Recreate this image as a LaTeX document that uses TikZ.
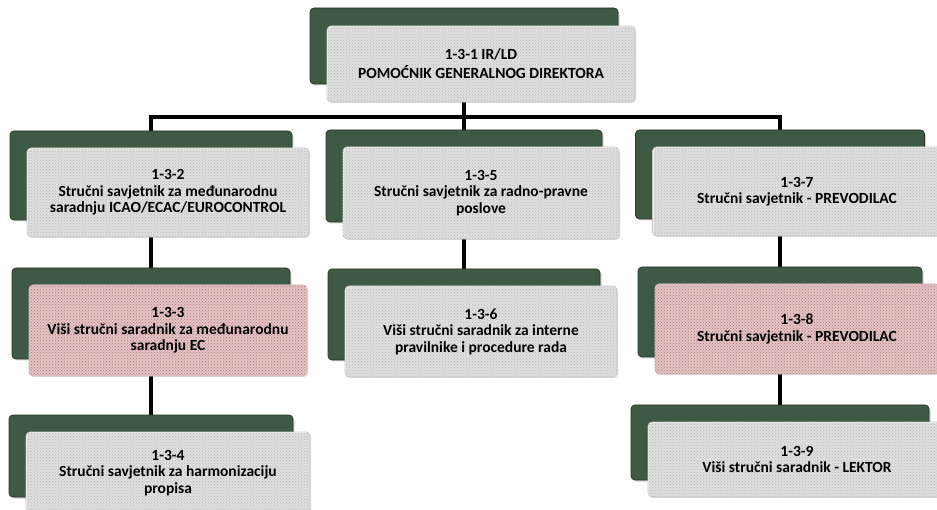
\documentclass[tikz,border=0pt]{standalone}
\usepackage{fontspec}
\setmainfont{Carlito}
\usetikzlibrary{patterns,shadows,backgrounds}
\definecolor{tabgreen}{RGB}{62,90,68}
\definecolor{tabedge}{RGB}{45,55,38}
\definecolor{rose}{RGB}{230,194,194}
\definecolor{rosedot}{RGB}{165,125,125}
\begin{document}
\begin{tikzpicture}[x=1pt,y=-1pt,
  back/.style={rectangle, rounded corners=4pt, draw=tabedge, fill=tabgreen, line width=0.8pt,
    drop shadow={opacity=0.35,shadow xshift=1.5pt,shadow yshift=-1.5pt}, inner sep=0pt},
  front/.style={rectangle, rounded corners=4pt, draw=gray!45, line width=0.6pt,
    preaction={fill=white}, pattern=crosshatch dots, pattern color=gray!55,
    drop shadow={opacity=0.25,shadow xshift=1pt,shadow yshift=-1pt},
    inner sep=0pt, align=center, font=\bfseries\fontsize{15.5}{16.5}\selectfont},
  pink/.style={front, draw=rose!80!gray, preaction={fill=rose}, pattern color=rosedot},
  conn/.style={line width=3.4pt, black}]
\useasboundingbox (0,0) rectangle (937,510);
\clip (0,0) rectangle (937,510);

% top
\node[back, minimum width=308pt, minimum height=76pt] (g131) at (464,46) {};
\node[front, minimum width=308pt, minimum height=76pt,
  font=\bfseries\fontsize{15.5}{19}\selectfont] (f131) at (481,64) {1-3-1 IR/LD\\POMOĆNIK GENERALNOG DIREKTORA};

% left column
\node[back, minimum width=282pt, minimum height=89pt] (g132) at (151,175.5) {};
\node[front, minimum width=282pt, minimum height=89pt] (f132) at (168,192.5)
  {1-3-2\\Stručni savjetnik za međunarodnu\\saradnju ICAO/ECAC/EUROCONTROL};
\node[back, minimum width=278pt, minimum height=91pt] (g133) at (151,313.5) {};
\node[pink, minimum width=278pt, minimum height=91pt] (f133) at (168,330.5)
  {1-3-3\\Viši stručni saradnik za međunarodnu\\saradnju EC};
\node[back, minimum width=284pt, minimum height=82pt] (g134) at (151,456) {};
\node[front, minimum width=284pt, minimum height=82pt] (f134) at (168,473)
  {1-3-4\\Stručni savjetnik za harmonizaciju\\propisa};

% middle column
\node[back, minimum width=276pt, minimum height=92pt] (g135) at (464,176) {};
\node[front, minimum width=276pt, minimum height=92pt] (f135) at (481,193)
  {1-3-5\\Stručni savjetnik za radno-pravne\\poslove};
\node[back, minimum width=272pt, minimum height=91pt] (g136) at (464,314.5) {};
\node[front, minimum width=272pt, minimum height=91pt] (f136) at (481,331.5)
  {1-3-6\\Viši stručni saradnik za interne\\pravilnike i procedure rada};

% right column
\node[back, minimum width=289pt, minimum height=89pt] (g137) at (780,174.5) {};
\node[front, minimum width=289pt, minimum height=89pt] (f137) at (797,191.5)
  {1-3-7\\Stručni savjetnik - PREVODILAC};
\node[back, minimum width=284pt, minimum height=90pt] (g138) at (780,312) {};
\node[pink, minimum width=284pt, minimum height=90pt] (f138) at (797,329)
  {1-3-8\\Stručni savjetnik - PREVODILAC};
\node[back, minimum width=298pt, minimum height=75pt] (g139) at (780,442.5) {};
\node[front, minimum width=298pt, minimum height=75pt] (f139) at (797,459.5)
  {1-3-9\\Viši stručni saradnik - LEKTOR};

\coordinate (bus) at (464,117);

\begin{pgfonlayer}{background}
\fill[white] (0,0) rectangle (937,510);
\draw[conn] (g131.south) -- (bus);
\draw[conn] (bus) -| (g132.north);
\draw[conn] (bus) -| (g135.north);
\draw[conn] (bus) -| (g137.north);
\draw[conn] (g132.south) -- (g133.north);
\draw[conn] (g133.south) -- (g134.north);
\draw[conn] (g135.south) -- (g136.north);
\draw[conn] (g137.south) -- (g138.north);
\draw[conn] (g138.south) -- (g139.north);
\end{pgfonlayer}
\end{tikzpicture}
\end{document}
